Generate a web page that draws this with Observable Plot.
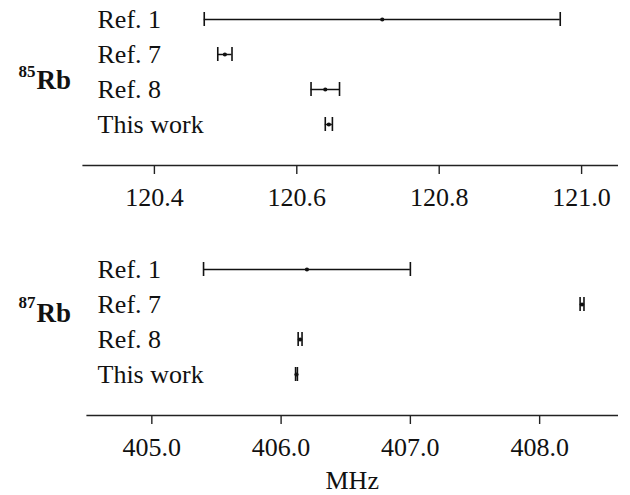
<!DOCTYPE html>
<html>
<head>
<meta charset="utf-8">
<script src="https://cdn.jsdelivr.net/npm/d3@7"></script>
<script src="https://cdn.jsdelivr.net/npm/@observablehq/plot@0.6"></script>
<style>
  html, body { margin: 0; padding: 0; background: #fff; }
  #chart { width: 630px; }
  #chart svg { display: block; }
</style>
</head>
<body>
<div id="chart"></div>
<script>
// ---- data ----
const rows = ["Ref. 1", "Ref. 7", "Ref. 8", "This work"];
const rb85Values = [120.72, 120.499, 120.640, 120.645];
const rb85Errors = [0.25, 0.010, 0.020, 0.005];
const rb87Values = [406.2, 408.328, 406.147, 406.119];
const rb87Errors = [0.8, 0.015, 0.015, 0.007];
const rb85Ticks = [120.4, 120.6, 120.8, 121.0];
const rb87Ticks = [405.0, 406.0, 407.0, 408.0];
const massNumbers = ["85", "87"];
const element = "Rb";
const unitLabel = "MHz";

const FONT = "'Liberation Serif', 'Times New Roman', Times, serif";

function panel({values, errors, domain, ticks, mass, height, marginLeft, marginBottom, rbDy, supDy, showUnit}) {
  const data = rows.map((label, i) => ({label, v: values[i], e: errors[i]}));
  const labelX = 97;
  const marks = [
    Plot.frame({anchor: "bottom", stroke: "#222", strokeWidth: 1.6}),
    Plot.axisX({ticks, tickFormat: d3.format(".1f"), tickSize: 9, tickPadding: 13,
                strokeWidth: 1.4, stroke: "#222", fill: "#111", label: null}),
    Plot.text(data, {y: "label", text: "label", frameAnchor: "left", dx: labelX - marginLeft,
                     textAnchor: "start", fill: "#111"}),
    Plot.ruleY(data, {y: "label", x1: d => d.v - d.e, x2: d => d.v + d.e, stroke: "#111", strokeWidth: 1.5}),
    Plot.tickX(data, {y: "label", x: d => d.v - d.e, stroke: "#111", strokeWidth: 1.6}),
    Plot.tickX(data, {y: "label", x: d => d.v + d.e, stroke: "#111", strokeWidth: 1.6}),
    Plot.dot(data, {y: "label", x: "v", r: 2.1, fill: "#111", stroke: "none"}),
    Plot.text([element], {frameAnchor: "top-left", dx: 36 - marginLeft, dy: rbDy, lineAnchor: "bottom",
                          textAnchor: "start", fontWeight: "bold", fontSize: 27, fill: "#111"}),
    Plot.text([mass], {frameAnchor: "top-left", dx: 18 - marginLeft, dy: supDy, lineAnchor: "bottom",
                       textAnchor: "start", fontWeight: "bold", fontSize: 17, fill: "#111"})
  ];
  if (showUnit) {
    marks.push(Plot.text([unitLabel], {frameAnchor: "bottom", dy: 65, lineAnchor: "middle", fill: "#111"}));
  }
  return Plot.plot({
    width: 630,
    height,
    marginLeft,
    marginRight: 630 - 616.7,
    marginTop: 0,
    marginBottom,
    style: {fontFamily: FONT, fontSize: "26px", background: "#fff", overflow: "visible", color: "#111"},
    x: {domain},
    y: {type: "band", domain: rows, range: [0, 143], paddingInner: 0.608, paddingOuter: 0.304, axis: null},
    marks
  });
}

const chart = document.getElementById("chart");
chart.append(panel({values: rb85Values, errors: rb85Errors, domain: [120.3, 121.05], ticks: rb85Ticks,
  mass: massNumbers[0], height: 250, marginLeft: 82.7, marginBottom: 85, rbDy: 88, supDy: 76, showUnit: false}));
chart.append(panel({values: rb87Values, errors: rb87Errors, domain: [404.5, 408.6], ticks: rb87Ticks,
  mass: massNumbers[1], height: 245, marginLeft: 86.7, marginBottom: 80, rbDy: 71, supDy: 57, showUnit: true}));
</script>
</body>
</html>
